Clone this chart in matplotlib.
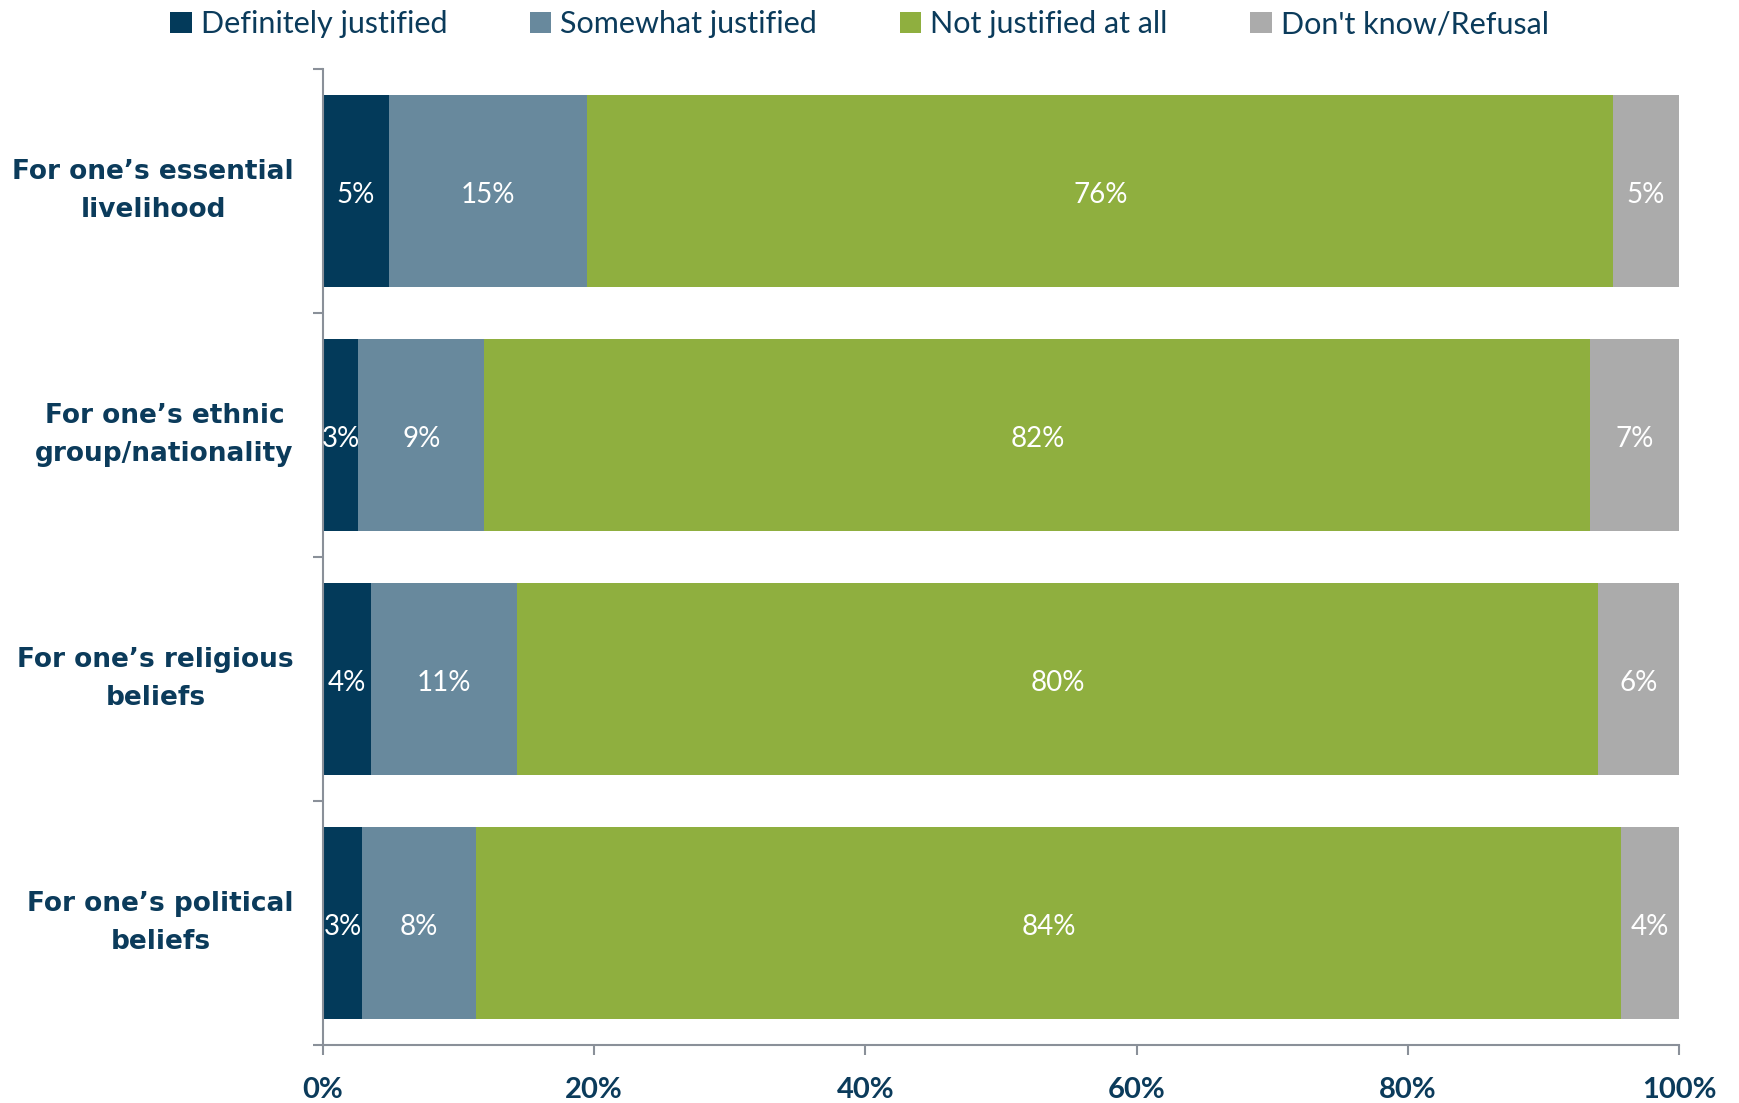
import matplotlib
matplotlib.use("Agg")
import matplotlib.pyplot as plt
import matplotlib.transforms as mtransforms
import numpy as np
from matplotlib.patches import Patch

categories = ["For one\u2019s essential\nlivelihood",
              "For one\u2019s ethnic\ngroup/nationality",
              "For one\u2019s religious\nbeliefs",
              "For one\u2019s political\nbeliefs"]
series_names = ["Definitely justified", "Somewhat justified",
                "Not justified at all", "Don't know/Refusal"]
definitely = [4.9, 2.6, 3.6, 2.9]
somewhat = [14.8, 9.4, 10.8, 8.4]
not_at_all = [76.4, 82.2, 80.4, 84.4]
dont_know = [4.9, 6.6, 6.0, 4.3]
x_ticks = [0, 20, 40, 60, 80, 100]
x_tick_labels = ["0%", "20%", "40%", "60%", "80%", "100%"]

colors = ["#033A5A", "#68899D", "#8FAF3F", "#ABABAB"]
text_color = "#0B3B5B"
axis_color = "#8A9099"

narrow = ["Lato", "DejaVu Sans"]

raw = np.array([definitely, somewhat, not_at_all, dont_know])
norm = raw / raw.sum(axis=0) * 100

fig = plt.figure(figsize=(17.4, 11.03), dpi=100)
ax = fig.add_axes([323/1740, 1 - 1045/1103, (1679-323)/1740, (1045-69)/1103])

y = np.arange(len(categories))
left = np.zeros(len(categories))
for i in range(4):
    ax.barh(y, norm[i], left=left, height=0.79, color=colors[i], edgecolor="none")
    for j in range(len(categories)):
        ax.text(left[j] + norm[i][j] / 2, y[j] + 0.015, f"{int(round(raw[i][j]))}%",
                ha="center", va="center", color="white", fontsize=20,
                family=narrow)
    left += norm[i]

ax.set_xlim(0, 100)
ax.set_ylim(len(categories) - 0.5, -0.5)
ax.set_xticks(x_ticks)
ax.set_xticklabels(x_tick_labels, fontsize=21, fontweight="bold", color=text_color, family=narrow)

# category labels (drawn as text so their vertical placement can be tuned)
ax.set_yticks(y)
ax.set_yticklabels([""] * len(categories))
trans = mtransforms.blended_transform_factory(ax.transAxes, ax.transData)
for j, cat in enumerate(categories):
    ax.text(-0.0215, y[j] + 0.002, cat, transform=trans, ha="right", va="center",
            multialignment="center", linespacing=1.6, fontsize=19,
            fontweight="bold", color=text_color)

ax.set_yticks(np.arange(-0.5, len(categories)), minor=True)
ax.tick_params(axis="y", which="major", length=0)
ax.tick_params(axis="y", which="minor", length=7, width=1.5, color=axis_color, direction="out")
ax.tick_params(axis="x", which="major", length=7, width=1.5, color=axis_color, direction="out", pad=16)

for s in ["top", "right"]:
    ax.spines[s].set_visible(False)
for s in ["left", "bottom"]:
    ax.spines[s].set_color(axis_color)
    ax.spines[s].set_linewidth(1.5)

handles = [Patch(facecolor=c, edgecolor="none") for c in colors]
leg = fig.legend(handles, series_names, loc="center", bbox_to_anchor=(0.494, 0.978),
                 ncol=4, frameon=False, handlelength=0.7, handleheight=0.7,
                 handletextpad=0.3, columnspacing=2.7,
                 prop={"family": narrow, "size": 22})
for t in leg.get_texts():
    t.set_color(text_color)

fig.savefig("out.png", dpi=100)
